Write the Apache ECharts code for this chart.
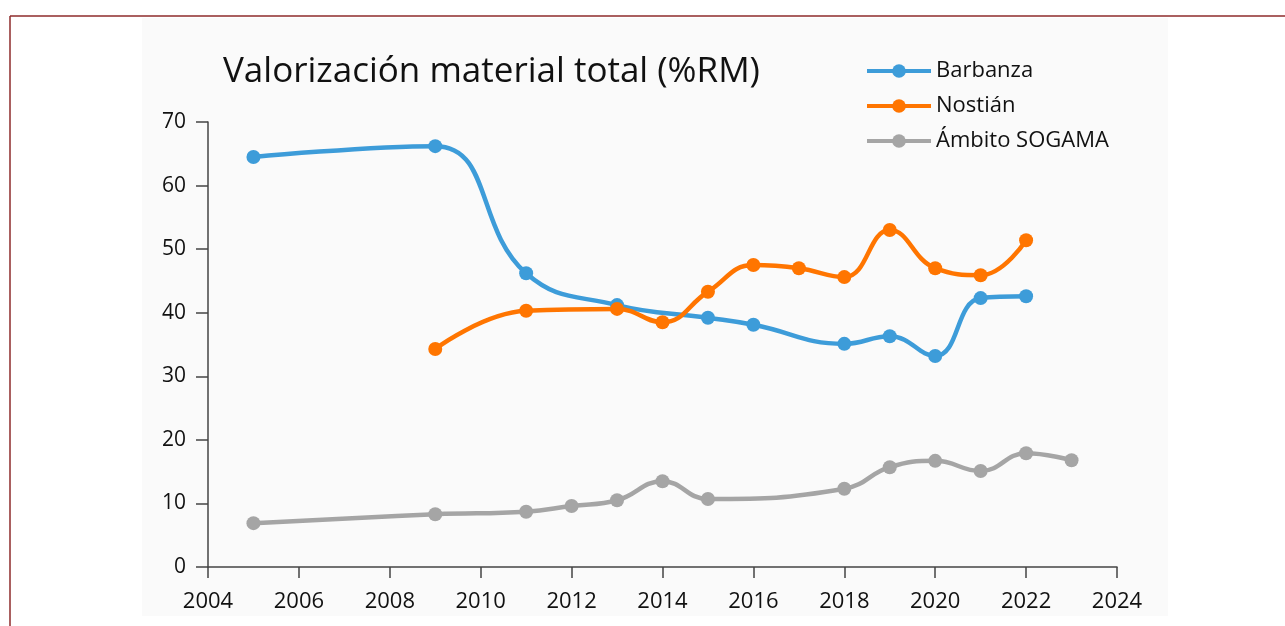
<!DOCTYPE html>
<html>
<head>
<meta charset="utf-8">
<script src="https://cdn.jsdelivr.net/npm/echarts@6/dist/echarts.min.js"></script>
<style>
  html, body { margin: 0; padding: 0; background: #fff; }
  #main { width: 1285px; height: 626px; }
</style>
</head>
<body>
<div id="main"></div>
<script>
// años y valores (%RM)
var barbanzaYears = [2005, 2009, 2011, 2013, 2015, 2016, 2018, 2019, 2020, 2021, 2022];
var barbanzaVals  = [64.5, 66.2, 46.2, 41.2, 39.2, 38.1, 35.1, 36.3, 33.2, 42.3, 42.6];

var nostianYears = [2009, 2011, 2013, 2014, 2015, 2016, 2017, 2018, 2019, 2020, 2021, 2022];
var nostianVals  = [34.3, 40.3, 40.6, 38.5, 43.3, 47.5, 47.0, 45.6, 53.0, 47.0, 45.9, 51.4];

var sogamaYears = [2005, 2009, 2011, 2012, 2013, 2014, 2015, 2018, 2019, 2020, 2021, 2022, 2023];
var sogamaVals  = [6.9, 8.3, 8.7, 9.6, 10.5, 13.5, 10.7, 12.3, 15.7, 16.7, 15.1, 17.9, 16.8];

function pairs(xs, ys) {
  var out = [];
  for (var i = 0; i < xs.length; i++) out.push([xs[i], ys[i]]);
  return out;
}

var chart = echarts.init(document.getElementById('main'));
var font = '"Open Sans", "Noto Sans", sans-serif';

function lineSeries(name, color, data) {
  return {
    name: name,
    type: 'line',
    smooth: 0.45,
    data: data,
    symbol: 'circle',
    symbolSize: 14,
    lineStyle: { color: color, width: 4.5 },
    itemStyle: { color: color },
    emphasis: { disabled: true }
  };
}

var option = {
  backgroundColor: '#ffffff',
  animation: false,
  textStyle: { fontFamily: font },
  graphic: [
    { type: 'rect', z: -10, shape: { x: 142, y: 18, width: 1026, height: 598 }, style: { fill: '#fafafa' } },
    { type: 'line', shape: { x1: 10, y1: 16, x2: 1285, y2: 16 }, style: { stroke: '#8e2b2b', lineWidth: 1.5 } },
    { type: 'line', shape: { x1: 10, y1: 16, x2: 10, y2: 626 }, style: { stroke: '#8e2b2b', lineWidth: 1.5 } }
  ],
  title: {
    text: 'Valorización material total (%RM)',
    left: 218,
    top: 50,
    textStyle: { fontFamily: font, fontSize: 35, fontWeight: 'normal', color: '#111' }
  },
  legend: {
    orient: 'vertical',
    left: 860,
    top: 55,
    itemWidth: 64,
    itemHeight: 17,
    itemGap: 13,
    lineStyle: { width: 4 },
    textStyle: { fontFamily: font, fontSize: 22, color: '#111' },
    data: ['Barbanza', 'Nostián', 'Ámbito SOGAMA']
  },
  grid: { left: 208, right: 168, top: 122, bottom: 59, containLabel: false },
  xAxis: {
    type: 'value',
    min: 2004,
    max: 2024,
    interval: 2,
    axisLine: { lineStyle: { color: '#444', width: 1.5 } },
    axisTick: { show: true, length: 11, lineStyle: { color: '#444', width: 1.5 } },
    axisLabel: { fontFamily: font, fontSize: 22, color: '#111', margin: 24, formatter: function (v) { return String(v); } },
    splitLine: { show: false }
  },
  yAxis: {
    type: 'value',
    min: 0,
    max: 70,
    interval: 10,
    axisLine: { show: true, lineStyle: { color: '#444', width: 1.5 } },
    axisTick: { show: true, length: 12, lineStyle: { color: '#444', width: 1.5 } },
    axisLabel: { fontFamily: font, fontSize: 21, color: '#111', margin: 22 },
    splitLine: { show: false }
  },
  series: [
    lineSeries('Barbanza', '#3d9cd9', pairs(barbanzaYears, barbanzaVals)),
    lineSeries('Nostián', '#ff7500', pairs(nostianYears, nostianVals)),
    lineSeries('Ámbito SOGAMA', '#a5a5a5', pairs(sogamaYears, sogamaVals))
  ]
};

chart.setOption(option);
</script>
</body>
</html>
